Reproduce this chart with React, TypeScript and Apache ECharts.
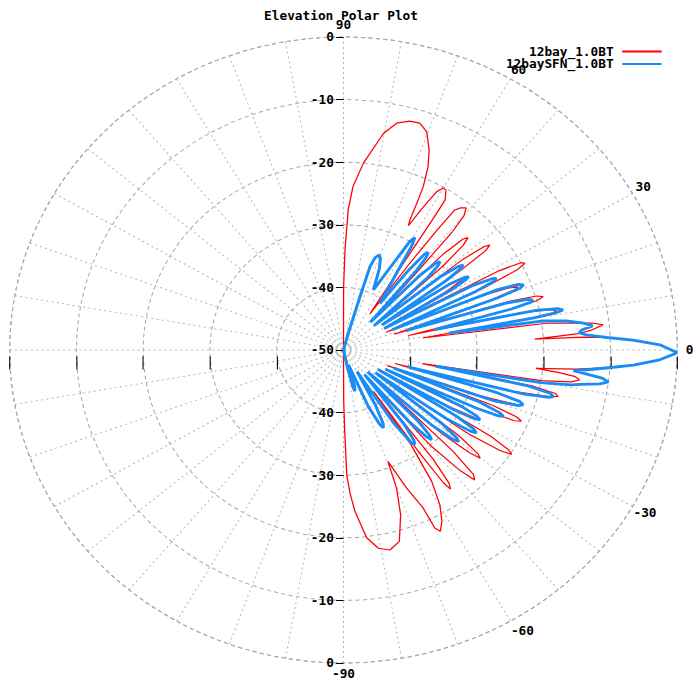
import React, { useEffect, useRef } from 'react';
import * as echarts from 'echarts';

const TITLE = 'Elevation Polar Plot';
const SERIES_NAMES = ['12bay_1.0BT', '12baySFN_1.0BT'];
const SERIES_COLORS = ['#ff0000', '#1a8cf5'];
const RADIUS_MIN = -50;
const RADIUS_MAX = 0;
const RADIUS_STEP = 10;
const ANGLE_LABELS = [-90, -60, -30, 0, 30, 60, 90];

// [elevation angle (deg), relative field (dB)]
const red12bay: [number, number][] = [
  [-90, -50], [-89.8, -42], [-89.2, -37], [-88.6, -30], [-87.5, -27], [-86.2, -24.2], [-83.4, -19.8],
  [-80.6, -17.9], [-77.7, -17.3], [-74.7, -18.3], [-72.0, -22.3], [-70.2, -26.5], [-69.5, -31],
  [-66.8, -26], [-64.7, -22.1], [-64.3, -18.4], [-63.4, -17.6], [-61.7, -18.9], [-59.7, -21.4], [-57.8, -25.2],
  [-56.2, -32], [-55.8, -42],
  [-55.3, -30], [-54.8, -24], [-54.2, -22.6], [-53.4, -23.5], [-52.4, -28], [-51.2, -43],
  [-49.5, -30], [-47.8, -24], [-46.6, -21.4], [-45.6, -22.2], [-44.6, -27], [-43.6, -43],
  [-42.2, -30], [-41.0, -25], [-40.2, -23.2], [-39.4, -24], [-38.4, -28], [-37.0, -43],
  [-35.6, -27], [-34.4, -21.5], [-33.5, -19.8], [-32.8, -20.6], [-32.0, -24], [-31.0, -43],
  [-29.8, -32], [-28.8, -27.5], [-28.2, -27], [-27.4, -29], [-26.2, -43],
  [-24.9, -28], [-23.8, -22], [-23.1, -21], [-22.4, -22], [-21.6, -26], [-20.8, -43],
  [-19.6, -28], [-18.6, -22.5], [-18.0, -21.7], [-17.3, -22.6], [-16.5, -27], [-15.6, -42],
  [-14.6, -24], [-13.6, -18.3], [-13.0, -17], [-12.3, -17.6], [-11.5, -21], [-10.4, -38],
  [-9.4, -20], [-8.5, -15.5], [-7.7, -14.3], [-7.0, -15], [-6.4, -17.5], [-5.8, -21],
  [-5.0, -15], [-3.9, -9.5], [-3.2, -6.5], [-1.9, -2.6], [-0.5, 0], [1.0, -2.6], [2.1, -6.6], [2.9, -10.5],
  [3.3, -14], [3.5, -21.3],
  [4.2, -15], [4.9, -12.7], [5.9, -10.9], [6.6, -12.5], [7.1, -15.3], [8.0, -19.3], [9.2, -38],
  [10.2, -22], [10.7, -18], [11.2, -17.5], [11.8, -18.5], [12.6, -23], [13.4, -40],
  [14.5, -25], [15.2, -20], [15.9, -18.9], [16.6, -19.8], [17.4, -24], [18.4, -42],
  [19.8, -27], [20.6, -22.5], [21.2, -22], [21.9, -23.5], [22.8, -28], [23.9, -43],
  [25.2, -27], [26.2, -21], [27.0, -19.5], [27.7, -20], [28.5, -23.5], [29.6, -43],
  [31.3, -32], [32.2, -28.8], [32.8, -28.6], [33.6, -30.5], [34.8, -43],
  [35.8, -29], [36.7, -23.5], [37.4, -22.4], [38.1, -23.2], [39.0, -27], [40.4, -43],
  [42.0, -30], [43.0, -25.5], [43.9, -24.1], [44.7, -24.8], [45.7, -28.5], [47.2, -43],
  [48.4, -34], [49.2, -25], [49.9, -22], [51.0, -20.8], [52.3, -21.3], [53.3, -22.1], [53.8, -26], [54.3, -32],
  [55.5, -43], [56.9, -36], [57.3, -27.9], [57.4, -24.1], [57.6, -21.6], [59.0, -20.2], [60.0, -20.1],
  [61.1, -21.1], [62.5, -24.5], [63.9, -27.9],
  [64.4, -27.0], [64.9, -24.1], [65.4, -21.3], [66.6, -18.1], [68.1, -15.6], [70.3, -13.0], [72.5, -12.0],
  [74.8, -12.1], [77.6, -12.9], [80.2, -14.9], [84.3, -20.0], [86.9, -23.9], [88.2, -27.6], [89.2, -34.0],
  [89.9, -39.9], [90, -50],
];

const blueSFN: [number, number][] = [
  [-90, -50], [-80, -50], [-78, -47], [-76.5, -43.8], [-75.4, -43.2], [-74, -44], [-72.5, -47.5],
  [-67.5, -40], [-65.5, -37], [-64.4, -36.2], [-63.2, -36.8], [-61.5, -40], [-59.5, -46],
  [-57.2, -36], [-55.6, -32], [-54.7, -31.5], [-53.8, -32.2], [-52.6, -35], [-51.2, -45],
  [-49.3, -35], [-48.2, -31.5], [-47.4, -30.5], [-46.6, -31.2], [-45.5, -34], [-43.9, -45],
  [-42.2, -32], [-41.0, -28.2], [-40.3, -27.4], [-39.6, -28], [-38.6, -31], [-37.2, -44],
  [-35.4, -31], [-34.3, -27], [-33.6, -26.1], [-32.9, -26.8], [-32.0, -30], [-31.0, -44],
  [-30.0, -31], [-29.2, -27.5], [-28.6, -26.7], [-27.9, -27.4], [-27.0, -30], [-26.0, -43],
  [-25.0, -28], [-24.4, -24.5], [-23.9, -23.8], [-23.2, -24.5], [-22.2, -28], [-21.0, -42],
  [-19.8, -26], [-18.7, -22.3], [-18.0, -21.7], [-17.3, -22.4], [-16.5, -26], [-15.6, -40],
  [-14.6, -22], [-13.8, -18.3], [-13.3, -17.7], [-12.6, -18.3], [-11.7, -22], [-10.6, -36],
  [-10.0, -20], [-9.3, -15.5], [-8.8, -14.2], [-8.0, -11.2], [-7.3, -10.0], [-6.6, -11.0], [-6.0, -13.5],
  [-5.5, -15.4], [-4.7, -12.5], [-3.9, -9.5], [-3.2, -6.5], [-1.9, -2.6], [-0.5, 0], [1.0, -2.6],
  [2.1, -6.6], [2.9, -10.5], [3.8, -13.5], [4.4, -14.6],
  [5.1, -14.2], [5.9, -12.5], [6.8, -13.8], [7.9, -16.3], [8.8, -19.7], [9.7, -34],
  [10.2, -21], [10.6, -17.5], [11.0, -16.5], [11.6, -17.2], [12.4, -20.5], [13.4, -36],
  [14.6, -24], [15.2, -21], [15.7, -20.5], [16.3, -21.2], [17.1, -24.5], [18.3, -40],
  [19.8, -25.5], [20.5, -21.8], [21.1, -21.1], [21.8, -21.8], [22.7, -25], [23.9, -42],
  [25.3, -28], [26.0, -25], [26.5, -24.4], [27.1, -25], [28.0, -28], [29.4, -43],
  [30.8, -31], [31.5, -28.5], [32.0, -27.9], [32.6, -28.5], [33.5, -31], [34.8, -43],
  [35.8, -31], [36.5, -28.2], [37.1, -27.5], [37.8, -28.2], [38.8, -31], [40.4, -44],
  [42.5, -33], [43.5, -30.5], [44.3, -29.8], [45.1, -30.5], [46.2, -33.5], [47.8, -44],
  [49.3, -33], [50.1, -30.6], [50.8, -29.9], [51.6, -30.5], [52.6, -34], [53.8, -40.8],
  [57.3, -34.8], [58.4, -30.6], [59.2, -29.1], [60.2, -30], [61.7, -34.3], [65.0, -39.4],
  [67.5, -36], [69.2, -34.4], [70.6, -33.9], [72.2, -34.5], [73.4, -36.1], [73.8, -41.1], [75, -47],
  [78, -50], [90, -50],
];

// layout of the (horizontally stretched) polar frame
const CX = 343.5;
const CY = 350;
const R = 313;
const STRETCH_X = 1.0664;
const FONT = 'DejaVu Sans Mono';

export default function App() {
  const ref = useRef<HTMLDivElement>(null);

  useEffect(() => {
    if (!ref.current) return;
    const chart = echarts.init(ref.current, null, { renderer: 'svg' });
    const toPolar = (pts: [number, number][]) => pts.map(([a, db]) => [db, a + 360]);
    const txt = { color: '#000', fontFamily: FONT, fontWeight: 'bold' as const, fontSize: 12 };
    const ringOffsets: number[] = [];
    for (let v = RADIUS_MIN + RADIUS_STEP; v <= RADIUS_MAX; v += RADIUS_STEP) {
      ringOffsets.push(v - RADIUS_MIN, -(v - RADIUS_MIN));
    }
    const legendRight = 693 - (CX + (662.7 - CX) / STRETCH_X);
    const legendBase = {
      right: legendRight,
      padding: 0,
      align: 'right',
      itemWidth: 37,
      itemHeight: 12,
      itemStyle: { opacity: 0 },
      textStyle: { ...txt, padding: [0, 3, 0, 0] },
    };
    // per-label nudges of the angle labels, so they sit like the reference's
    const angleRich = {
      h: { ...txt, padding: [0, 0, 0, 7] },
      dp: { ...txt, padding: [0, 0, 0, 2] },
      dn: { ...txt, padding: [0, 0, 0, 0] },
      sp: { ...txt, padding: [0, 0, 2.5, 0] },
      sn: { ...txt, padding: [3, 0, 0, 0] },
      vp: { ...txt, padding: [0, 0, 5, 0] },
      vn: { ...txt, padding: [4, 0, 0, 0] },
    };

    chart.setOption({
      animation: false,
      title: {
        text: TITLE,
        left: 269,
        top: 10,
        padding: 0,
        textStyle: { ...txt },
      },
      legend: [
        { ...legendBase, data: [SERIES_NAMES[0]], top: 45.5 },
        { ...legendBase, data: [SERIES_NAMES[1]], top: 58 },
      ],
      polar: { center: [CX, CY], radius: R },
      angleAxis: {
        type: 'value',
        min: 90,
        max: 450,
        interval: 10,
        startAngle: 90,
        clockwise: false,
        axisLine: { show: true, lineStyle: { color: '#a9a9a9', width: 1, type: [4, 3] } },
        axisTick: { show: false },
        splitLine: { show: true, lineStyle: { color: '#b9b9b9', width: 1, type: [2, 3] } },
        axisLabel: {
          show: true,
          margin: 1,
          ...txt,
          rich: angleRich,
          formatter: (v: number) => {
            const a = v > 180 ? v - 360 : v;
            if (ANGLE_LABELS.indexOf(a) < 0) return '';
            const s = a >= 0 ? 'p' : 'n';
            const key = a === 0 ? 'h' : Math.abs(a) === 30 ? 'd' + s : Math.abs(a) === 60 ? 's' + s : 'v' + s;
            return `{${key}|${a}}`;
          },
        },
      },
      radiusAxis: {
        type: 'value',
        min: RADIUS_MIN,
        max: RADIUS_MAX,
        interval: RADIUS_STEP,
        axisLine: { show: false },
        axisTick: { show: true, length: 7, lineStyle: { color: '#000', width: 1 } },
        axisLabel: { show: true, margin: 9, ...txt },
        splitLine: { show: true, lineStyle: { color: '#a9a9a9', width: 1, type: [4, 3] } },
      },
      grid: [
        // horizontal axis ticks through the centre
        { left: CX - R, width: 2 * R, top: CY - 6.5, height: 13 },
        // lower half of the vertical dB axis
        { left: CX, width: R, top: CY, height: R },
      ],
      xAxis: [
        {
          gridIndex: 0,
          type: 'value',
          min: RADIUS_MIN,
          max: -RADIUS_MIN,
          position: 'top',
          axisLine: { show: false },
          axisLabel: { show: false },
          splitLine: { show: false },
          axisTick: {
            show: true,
            inside: true,
            length: 13,
            customValues: ringOffsets,
            lineStyle: { color: '#000', width: 1 },
          },
        },
        { gridIndex: 1, type: 'value', show: false },
      ],
      yAxis: [
        { gridIndex: 0, type: 'value', show: false },
        {
          gridIndex: 1,
          type: 'value',
          min: RADIUS_MIN,
          max: RADIUS_MAX,
          interval: RADIUS_STEP,
          inverse: true,
          position: 'left',
          axisLine: { show: false },
          axisTick: { show: true, length: 7, lineStyle: { color: '#000', width: 1 } },
          axisLabel: { show: true, margin: 9, showMinLabel: false, ...txt },
          splitLine: { show: false },
        },
      ],
      series: [
        {
          name: SERIES_NAMES[0],
          type: 'line',
          coordinateSystem: 'polar',
          symbol: 'none',
          data: toPolar(red12bay),
          lineStyle: { color: SERIES_COLORS[0], width: 1.2 },
          itemStyle: { color: SERIES_COLORS[0] },
          z: 3,
        },
        {
          name: SERIES_NAMES[1],
          type: 'line',
          coordinateSystem: 'polar',
          symbol: 'none',
          data: toPolar(blueSFN),
          lineStyle: { color: SERIES_COLORS[1], width: 2.8 },
          itemStyle: { color: SERIES_COLORS[1] },
          z: 4,
        },
      ],
    });
    return () => chart.dispose();
  }, []);

  return (
    <div
      style={{
        position: 'fixed',
        left: 0,
        top: 0,
        width: 693,
        height: 684,
        overflow: 'hidden',
        background: '#fff',
      }}
    >
      <div
        ref={ref}
        style={{
          width: 693,
          height: 684,
          transform: `scaleX(${STRETCH_X})`,
          transformOrigin: `${CX}px 0px`,
        }}
      />
    </div>
  );
}
